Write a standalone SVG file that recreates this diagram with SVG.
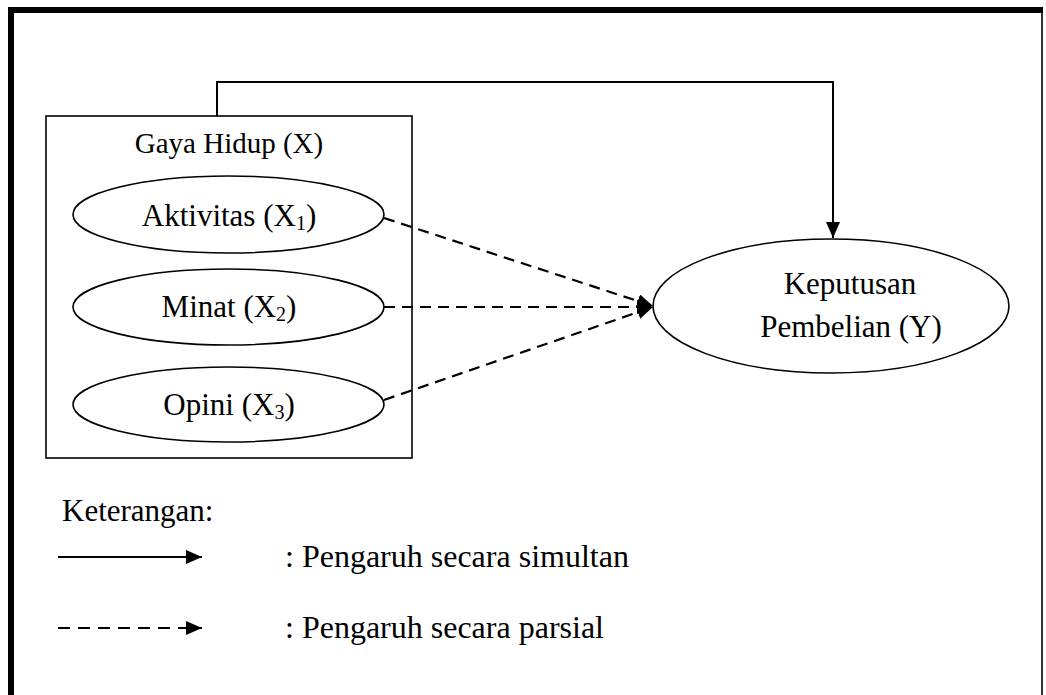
<svg xmlns="http://www.w3.org/2000/svg" width="1046" height="695" viewBox="0 0 1046 695">
<style>
text{font-family:"Liberation Serif","Times New Roman",serif;fill:#000}
.n{font-size:31px}
.lg{font-size:32px}
.sub{font-size:20px}
.shape{fill:#fff;stroke:#000;stroke-width:1.6}
.solid{fill:none;stroke:#000;stroke-width:2}
.dash{fill:none;stroke:#000;stroke-width:2.2;stroke-dasharray:11,7}
.ldash{fill:none;stroke:#000;stroke-width:2.2;stroke-dasharray:12,8}
</style>
<defs>
<marker id="ah" viewBox="0 0 16 14" refX="16" refY="7" markerWidth="16" markerHeight="14" markerUnits="userSpaceOnUse" orient="auto">
<path d="M0,0 L16,7 L0,14 Z" fill="#000"/>
</marker>
</defs>
<rect width="1046" height="695" fill="#fff"/>
<g id="frame">
<rect x="8" y="7" width="6" height="688" fill="#000"/>
<rect x="8" y="7" width="1035" height="6" fill="#000"/>
<line x1="1042" y1="10" x2="1042" y2="695" stroke="#000" stroke-width="1.6"/>
</g>
<g id="gaya-hidup">
<rect class="shape" x="46" y="116" width="366" height="342"/>
<text x="229" y="153" font-size="29" text-anchor="middle">Gaya Hidup (X)</text>
</g>
<g id="aktivitas">
<ellipse class="shape" cx="228.5" cy="214.5" rx="155.5" ry="38.5"/>
<text class="n" x="229" y="226" text-anchor="middle">Aktivitas (X<tspan class="sub" dy="4">1</tspan><tspan dy="-4">)</tspan></text>
</g>
<g id="minat">
<ellipse class="shape" cx="228.5" cy="307" rx="155.5" ry="38"/>
<text class="n" x="229" y="317" text-anchor="middle">Minat (X<tspan class="sub" dy="4">2</tspan><tspan dy="-4">)</tspan></text>
</g>
<g id="opini">
<ellipse class="shape" cx="228.5" cy="404.5" rx="155.5" ry="37.5"/>
<text class="n" x="229" y="415" text-anchor="middle">Opini (X<tspan class="sub" dy="4">3</tspan><tspan dy="-4">)</tspan></text>
</g>
<g id="keputusan">
<ellipse class="shape" cx="831" cy="306" rx="178" ry="67"/>
<text class="n" x="850" y="294" text-anchor="middle">Keputusan</text>
<text class="n" x="851" y="337" text-anchor="middle">Pembelian (Y)</text>
</g>
<g id="connectors">
<polyline class="solid" points="217,116 217,82 833,82 833,238" marker-end="url(#ah)"/>
<line class="dash" x1="384" y1="218" x2="653" y2="306" marker-end="url(#ah)"/>
<line class="dash" x1="384" y1="307" x2="653" y2="307" marker-end="url(#ah)"/>
<line class="dash" x1="384" y1="400" x2="653" y2="307" marker-end="url(#ah)"/>
</g>
<g id="legend">
<text class="n" x="62" y="521">Keterangan:</text>
<line class="solid" x1="58" y1="557" x2="202" y2="557" marker-end="url(#ah)"/>
<text class="lg" x="285" y="567">: Pengaruh secara simultan</text>
<line class="ldash" x1="58" y1="628" x2="202" y2="628" marker-end="url(#ah)"/>
<text class="lg" x="285" y="638">: Pengaruh secara parsial</text>
</g>
</svg>
